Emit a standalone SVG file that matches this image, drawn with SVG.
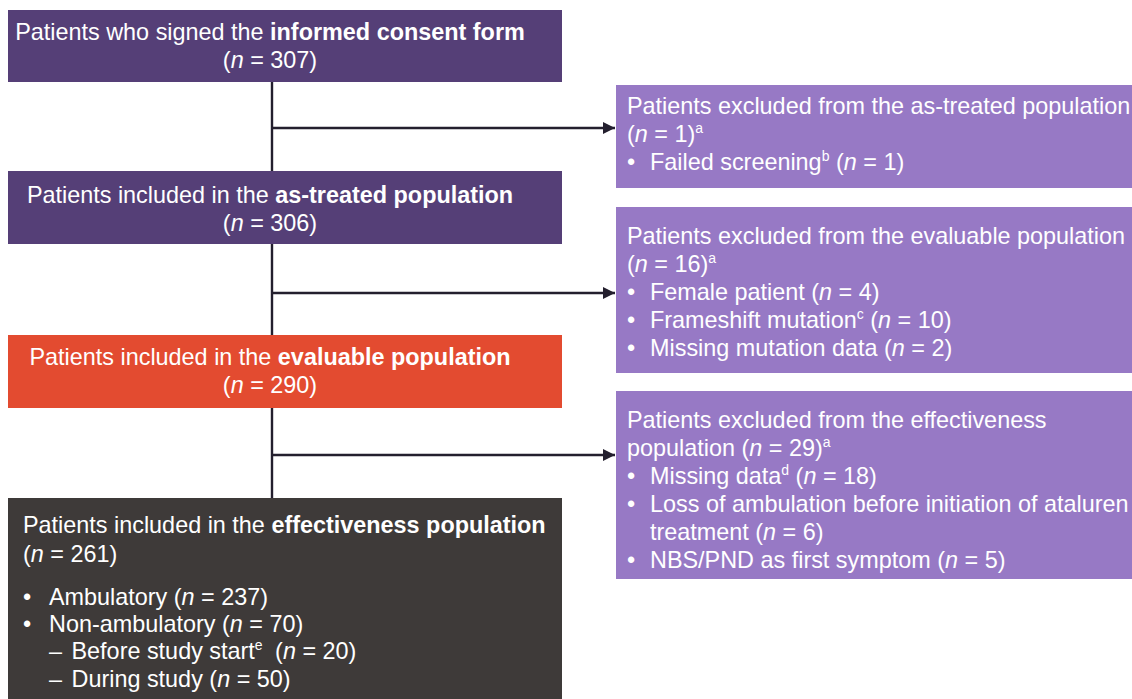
<svg xmlns="http://www.w3.org/2000/svg" width="1132" height="699" viewBox="0 0 1132 699">
<style>
  text { font-family: "Liberation Sans", Arial, sans-serif; font-size: 23.4px; fill: #ffffff; }
  .c { text-anchor: middle; }
  .b { font-weight: bold; }
  .i { font-style: italic; }
  .sup { font-size: 14px; }
  .dk { fill: #553F77; }
  .lt { fill: #9779C5; }
  .or { fill: #E34B30; }
  .gr { fill: #3E3A39; }
  .conn line { stroke: #231F2E; stroke-width: 2.4; fill: none; }
</style>
<defs>
  <marker id="ah" markerWidth="12" markerHeight="12" refX="12" refY="6" orient="auto" markerUnits="userSpaceOnUse">
    <path d="M0,0 L12,6 L0,12 Z" fill="#231F2E"/>
  </marker>
</defs>
<rect width="1132" height="699" fill="#ffffff"/>

<g class="conn" id="connectors">
  <line x1="272" y1="82" x2="272" y2="498"/>
  <line x1="272" y1="128" x2="615" y2="128" marker-end="url(#ah)"/>
  <line x1="272" y1="293" x2="615" y2="293" marker-end="url(#ah)"/>
  <line x1="272" y1="455" x2="615" y2="455" marker-end="url(#ah)"/>
</g>

<g id="consent">
  <rect class="dk" x="8" y="10" width="554" height="72"/>
  <text class="c" x="270" y="40">Patients who signed the <tspan class="b">informed consent form</tspan></text>
  <text class="c" x="270" y="68">(<tspan class="i">n</tspan> = 307)</text>
</g>

<g id="astreated">
  <rect class="dk" x="8" y="171" width="554" height="73"/>
  <text class="c" x="270" y="203">Patients included in the <tspan class="b">as-treated population</tspan></text>
  <text class="c" x="270" y="231">(<tspan class="i">n</tspan> = 306)</text>
</g>

<g id="evaluable">
  <rect class="or" x="8" y="335" width="554" height="73"/>
  <text class="c" x="270" y="365">Patients included in the <tspan class="b">evaluable population</tspan></text>
  <text class="c" x="270" y="393">(<tspan class="i">n</tspan> = 290)</text>
</g>

<g id="effectiveness">
  <rect class="gr" x="8" y="498" width="554" height="201"/>
  <text x="23" y="533">Patients included in the <tspan class="b">effectiveness population</tspan></text>
  <text x="23" y="562">(<tspan class="i">n</tspan> = 261)</text>
  <text x="23" y="605">•</text>
  <text x="49" y="605">Ambulatory (<tspan class="i">n</tspan> = 237)</text>
  <text x="23" y="632">•</text>
  <text x="49" y="632">Non-ambulatory (<tspan class="i">n</tspan> = 70)</text>
  <text x="49" y="659">–<tspan dx="3"> Before study start</tspan><tspan class="sup" dy="-9">e</tspan><tspan dy="9" dx="6"> (</tspan><tspan class="i">n</tspan> = 20)</text>
  <text x="49" y="687">–<tspan dx="3"> During study (</tspan><tspan class="i">n</tspan> = 50)</text>
</g>

<g id="excl-astreated">
  <rect class="lt" x="616" y="85" width="516" height="103"/>
  <text x="627" y="114">Patients excluded from the as-treated population</text>
  <text x="627" y="142">(<tspan class="i">n</tspan> = 1)<tspan class="sup" dy="-9">a</tspan></text>
  <text x="627" y="170">•</text>
  <text x="650" y="170">Failed screening<tspan class="sup" dy="-9">b</tspan><tspan dy="9"> (</tspan><tspan class="i">n</tspan> = 1)</text>
</g>

<g id="excl-evaluable">
  <rect class="lt" x="616" y="207" width="516" height="166"/>
  <text x="627" y="244">Patients excluded from the evaluable population</text>
  <text x="627" y="272">(<tspan class="i">n</tspan> = 16)<tspan class="sup" dy="-9">a</tspan></text>
  <text x="627" y="300">•</text>
  <text x="650" y="300">Female patient (<tspan class="i">n</tspan> = 4)</text>
  <text x="627" y="328">•</text>
  <text x="650" y="328">Frameshift mutation<tspan class="sup" dy="-9">c</tspan><tspan dy="9"> (</tspan><tspan class="i">n</tspan> = 10)</text>
  <text x="627" y="356">•</text>
  <text x="650" y="356">Missing mutation data (<tspan class="i">n</tspan> = 2)</text>
</g>

<g id="excl-effectiveness">
  <rect class="lt" x="616" y="391" width="516" height="188"/>
  <text x="627" y="428">Patients excluded from the effectiveness</text>
  <text x="627" y="456">population (<tspan class="i">n</tspan> = 29)<tspan class="sup" dy="-9">a</tspan></text>
  <text x="627" y="484">•</text>
  <text x="650" y="484">Missing data<tspan class="sup" dy="-9">d</tspan><tspan dy="9"> (</tspan><tspan class="i">n</tspan> = 18)</text>
  <text x="627" y="512">•</text>
  <text x="650" y="512">Loss of ambulation before initiation of ataluren</text>
  <text x="650" y="540">treatment (<tspan class="i">n</tspan> = 6)</text>
  <text x="627" y="568">•</text>
  <text x="650" y="568">NBS/PND as first symptom (<tspan class="i">n</tspan> = 5)</text>
</g>
</svg>
